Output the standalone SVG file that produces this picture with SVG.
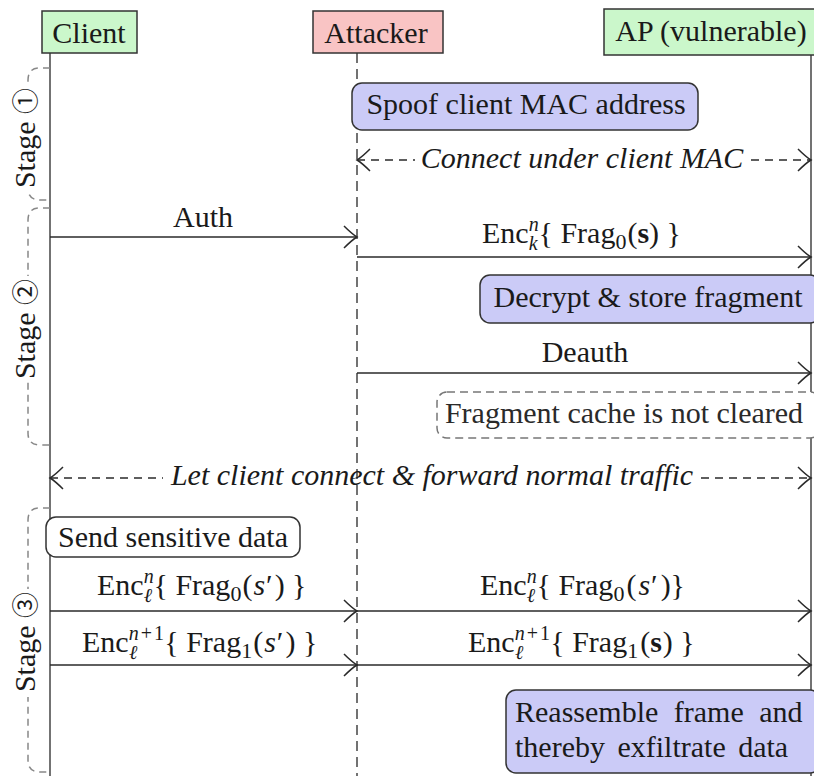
<svg xmlns="http://www.w3.org/2000/svg" width="814" height="776" viewBox="0 0 814 776" font-family="'Liberation Serif', serif" font-size="30">
  <style>
    .ink { fill: #1a1a1a; }
    .it { font-style: italic; }
    .sc { font-size: 20px; }
    .dg { font-size: 22px; }
    .bf { font-weight: bold; }
    .head { stroke: #333; stroke-width: 1.5; }
    .green { fill: #cbf7cb; }
    .red { fill: #f9c4c4; }
    .note { fill: #cbcbf7; stroke: #333; stroke-width: 1.5; }
    .plain { fill: #fff; stroke: #333; stroke-width: 1.5; }
    .soft { fill: #fff; stroke: #777; stroke-width: 1.5; stroke-dasharray: 8 5; }
    .life { stroke: #444; stroke-width: 1.5; fill: none; }
    .msg { stroke: #2a2a2a; stroke-width: 1.5; fill: none; marker-end: url(#tip); }
    .dmsg { stroke: #2a2a2a; stroke-width: 1.5; fill: none; stroke-dasharray: 8 6; }
    .stage { fill: none; stroke: #888; stroke-width: 1.5; stroke-dasharray: 7 5; }
  </style>
  <defs>
    <marker id="tip" viewBox="-15 -13 17 26" refX="0" refY="0" markerWidth="17" markerHeight="26" markerUnits="userSpaceOnUse" orient="auto-start-reverse">
      <path d="M-13,-11 Q-5,-3 0,0 Q-5,3 -13,11" fill="none" stroke="#2a2a2a" stroke-width="1.5" stroke-dasharray="none"/>
    </marker>
  </defs>

  <rect width="814" height="776" fill="#fff"/>

  <!-- lifelines -->
  <g id="lifelines">
    <line class="life" x1="50" y1="53" x2="50" y2="776"/>
    <line class="life" x1="357" y1="53" x2="357" y2="776" stroke-dasharray="10 6"/>
    <line class="life" x1="811" y1="55" x2="811" y2="776" stroke="#555" stroke-width="2.5"/>
  </g>

  <!-- participants -->
  <g id="client">
    <rect class="head green" x="42" y="11" width="95" height="42"/>
    <text class="ink" x="89" y="43" text-anchor="middle">Client</text>
  </g>
  <g id="attacker">
    <rect class="head red" x="313" y="11" width="130" height="42"/>
    <text class="ink" x="376" y="43" text-anchor="middle">Attacker</text>
  </g>
  <g id="ap">
    <rect class="head green" x="604" y="9" width="214" height="46"/>
    <text class="ink" x="711" y="41" text-anchor="middle">AP (vulnerable)</text>
  </g>

  <!-- stage brackets -->
  <g id="stage1">
    <path class="stage" d="M50,68 H40 Q28,68 28,80 V188 Q28,200 40,200 H50"/>
    <rect x="12" y="82" width="30" height="112" fill="#fff"/>
    <text class="ink" transform="translate(35,138) rotate(-90)" text-anchor="middle">Stage <tspan font-family="'Noto Sans CJK JP', 'DejaVu Sans', sans-serif" font-size="26">①</tspan></text>
  </g>
  <g id="stage2">
    <path class="stage" d="M50,208 H40 Q28,208 28,220 V433 Q28,445 40,445 H50"/>
    <rect x="12" y="276" width="30" height="106" fill="#fff"/>
    <text class="ink" transform="translate(35,329) rotate(-90)" text-anchor="middle">Stage <tspan font-family="'Noto Sans CJK JP', 'DejaVu Sans', sans-serif" font-size="26">②</tspan></text>
  </g>
  <g id="stage3">
    <path class="stage" d="M50,508 H40 Q28,508 28,520 V760 Q28,772 40,772 H50"/>
    <rect x="12" y="589" width="30" height="108" fill="#fff"/>
    <text class="ink" transform="translate(35,642) rotate(-90)" text-anchor="middle">Stage <tspan font-family="'Noto Sans CJK JP', 'DejaVu Sans', sans-serif" font-size="26">③</tspan></text>
  </g>

  <!-- action boxes -->
  <g id="spoof">
    <rect class="note" x="352" y="83" width="346" height="47" rx="10"/>
    <text class="ink" x="526" y="114" text-anchor="middle">Spoof client MAC address</text>
  </g>
  <g id="decrypt">
    <rect class="note" x="480" y="275" width="340" height="48" rx="10"/>
    <text class="ink" x="648" y="307" text-anchor="middle">Decrypt &amp; store fragment</text>
  </g>
  <g id="cache">
    <rect class="soft" x="437" y="392" width="383" height="46" rx="10"/>
    <text x="624" y="423" text-anchor="middle" fill="#2a2a2a">Fragment cache is not cleared</text>
  </g>
  <g id="send">
    <rect class="plain" x="46" y="517" width="254" height="40" rx="10"/>
    <text class="ink" x="173" y="547" text-anchor="middle">Send sensitive data</text>
  </g>
  <g id="reassemble">
    <rect class="note" x="506" y="690" width="314" height="83" rx="10"/>
    <text class="ink" x="515" y="722" word-spacing="8">Reassemble frame and</text>
    <text class="ink" x="515" y="757" word-spacing="5">thereby exfiltrate data</text>
  </g>

  <!-- messages -->
  <g id="connectors">
    <line class="dmsg" x1="357" y1="160" x2="415" y2="160" marker-start="url(#tip)"/>
    <line class="dmsg" x1="751" y1="160" x2="811" y2="160" marker-end="url(#tip)"/>
    <line class="msg" x1="50" y1="237" x2="357" y2="237"/>
    <line class="msg" x1="357" y1="257" x2="811" y2="257"/>
    <line class="msg" x1="357" y1="373" x2="811" y2="373"/>
    <line class="dmsg" x1="50" y1="478" x2="163" y2="478" marker-start="url(#tip)"/>
    <line class="dmsg" x1="701" y1="478" x2="811" y2="478" marker-end="url(#tip)"/>
    <line class="msg" x1="50" y1="611" x2="357" y2="611"/>
    <line class="msg" x1="357" y1="611" x2="811" y2="611"/>
    <line class="msg" x1="50" y1="665" x2="357" y2="665"/>
    <line class="msg" x1="357" y1="665" x2="811" y2="665"/>
  </g>

  <!-- message labels -->
  <g id="labels">
    <text class="ink it" x="582" y="168" text-anchor="middle">Connect under client MAC</text>
    <text class="ink" x="203" y="227" text-anchor="middle">Auth</text>
    <text class="ink" x="482" y="243">Enc<tspan class="sc it" dy="-12">n</tspan><tspan class="sc it" dx="-10" dy="19">k</tspan><tspan dx="1" dy="-7">{ Frag</tspan><tspan class="dg" dy="6">0</tspan><tspan dx="1" dy="-6">(</tspan><tspan class="bf">s</tspan>) }</text>
    <text class="ink" x="585" y="362" text-anchor="middle">Deauth</text>
    <text class="ink it" x="432" y="485" text-anchor="middle">Let client connect &amp; forward normal traffic</text>
    <text class="ink" x="97" y="595">Enc<tspan class="sc it" dy="-12">n</tspan><tspan class="sc it" dx="-10" dy="19">ℓ</tspan><tspan dx="1.5" dy="-7">{ Frag</tspan><tspan class="dg" dy="6">0</tspan><tspan dx="1" dy="-6">(</tspan><tspan class="it" dx="1">s</tspan><tspan dx="1">′</tspan><tspan dx="2">) }</tspan></text>
    <text class="ink" x="82" y="652">Enc<tspan class="sc it" dy="-12">n</tspan><tspan class="sc" dx="2">+</tspan><tspan class="sc" dx="2">1</tspan><tspan class="sc it" dx="-35" dy="19">ℓ</tspan><tspan dx="27" dy="-7">{ Frag</tspan><tspan class="dg" dy="6">1</tspan><tspan dx="1" dy="-6">(</tspan><tspan class="it" dx="1">s</tspan><tspan dx="1">′</tspan><tspan dx="2">) }</tspan></text>
    <text class="ink" x="480" y="595">Enc<tspan class="sc it" dy="-12">n</tspan><tspan class="sc it" dx="-10" dy="19">ℓ</tspan><tspan dx="1.5" dy="-7">{ Frag</tspan><tspan class="dg" dy="6">0</tspan><tspan dx="2" dy="-6">(</tspan><tspan class="it" dx="2">s</tspan><tspan dx="1">′</tspan><tspan dx="3">)}</tspan></text>
    <text class="ink" x="468" y="652">Enc<tspan class="sc it" dy="-12">n</tspan><tspan class="sc" dx="2">+</tspan><tspan class="sc" dx="2">1</tspan><tspan class="sc it" dx="-35" dy="19">ℓ</tspan><tspan dx="27" dy="-7">{ Frag</tspan><tspan class="dg" dy="6">1</tspan><tspan dx="2" dy="-6">(</tspan><tspan class="bf">s</tspan><tspan dx="1">) }</tspan></text>
  </g>
</svg>
